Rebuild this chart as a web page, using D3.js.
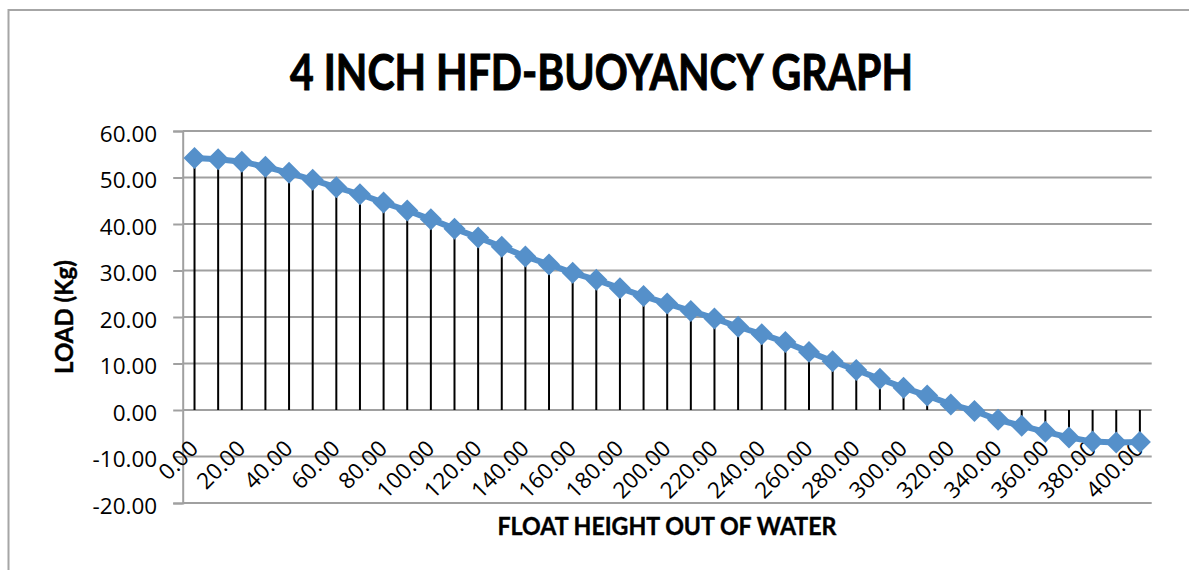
<!DOCTYPE html>
<meta charset="utf-8">
<html>
<head>
	<!-- Load d3.js -->
	<script src="https://d3js.org/d3.v7.min.js"></script>
	<style>
		body { margin: 0; background: #fff; }
		text { font-family: Lato, "Open Sans", sans-serif; fill: #000; }
		.tick text { font-family: "Open Sans", Lato, sans-serif; }
	</style>
</head>
<body>

<div id="chart"></div>

<script>

// float height out of water (categories) and load in kg
var heights = [0,10,20,30,40,50,60,70,80,90,100,110,120,130,140,150,160,170,180,190,200,
               210,220,230,240,250,260,270,280,290,300,310,320,330,340,350,360,370,380,390,400];
var loads = [54.2,53.9,53.4,52.3,51.0,49.5,47.9,46.4,44.6,42.9,41.0,39.0,37.1,35.1,33.0,31.3,
             29.5,28.0,26.2,24.5,22.9,21.3,19.7,17.9,16.3,14.6,12.5,10.5,8.6,6.7,4.8,3.1,
             1.2,-0.2,-2.1,-3.4,-4.7,-5.9,-6.8,-7.0,-6.9];
var yTicks = [-20,-10,0,10,20,30,40,50,60];

var W = 1189, H = 570;
// plot area edges (window.top is reserved, so keep them in an object)
var plot = {left: 182.7, right: 1151.7, top: 131, bottom: 503};

// excel style number with a plain hyphen
function fmt(d) { return d.toFixed(2); }

var svg = d3.select("#chart")
  .append("svg")
    .attr("width", W)
    .attr("height", H);

// chart border (right/bottom run off the picture)
svg.append("rect")
  .attr("x", 8.5).attr("y", 10)
  .attr("width", 1300).attr("height", 700)
  .attr("fill", "none")
  .attr("stroke", "#a6a6a6")
  .attr("stroke-width", 2);

var x = d3.scaleBand()
  .domain(heights)
  .range([plot.left, plot.right])
  .padding(0);

var y = d3.scaleLinear()
  .domain([-20, 60])
  .range([plot.bottom, plot.top]);

// gridlines
svg.append("g")
  .selectAll("line")
  .data(yTicks)
  .enter()
  .append("line")
    .attr("x1", plot.left)
    .attr("x2", plot.right)
    .attr("y1", function(d) { return y(d); })
    .attr("y2", function(d) { return y(d); })
    .attr("stroke", "#a0a0a0")
    .attr("stroke-width", 2);

// Y axis
var yAxis = svg.append("g")
  .attr("transform", "translate(" + plot.left + ",0)")
  .call(d3.axisLeft(y).tickValues(yTicks).tickSize(9.5).tickPadding(16)
        .tickFormat(fmt));
yAxis.select(".domain").attr("stroke", "#a0a0a0").attr("stroke-width", 2);
yAxis.selectAll(".tick line").attr("stroke", "#a0a0a0").attr("stroke-width", 2);
yAxis.selectAll("text")
  .attr("font-size", 22.5)
  .attr("dy", "0.45em");

// X axis (crosses at 0), label every second category
var xAxis = svg.append("g")
  .attr("transform", "translate(0," + y(0) + ")")
  .call(d3.axisBottom(x)
        .tickValues(heights.filter(function(d, i) { return i % 2 === 0; }))
        .tickSize(0)
        .tickFormat(fmt));
xAxis.select(".domain").remove();
xAxis.selectAll("text")
  .attr("font-size", 22.5)
  .attr("y", 0)
  .attr("dy", 0)
  .attr("text-anchor", "end")
  .attr("transform", "translate(5,40) rotate(-45)");

// drop lines
svg.append("g")
  .selectAll("line")
  .data(loads)
  .enter()
  .append("line")
    .attr("x1", function(d, i) { return x(heights[i]) + x.bandwidth() / 2; })
    .attr("x2", function(d, i) { return x(heights[i]) + x.bandwidth() / 2; })
    .attr("y1", function(d) { return y(d); })
    .attr("y2", y(0))
    .attr("stroke", "#000")
    .attr("stroke-width", 2);

// series line
var line = d3.line()
  .x(function(d, i) { return x(heights[i]) + x.bandwidth() / 2; })
  .y(function(d) { return y(d); });

svg.append("path")
  .datum(loads)
  .attr("d", line)
  .attr("fill", "none")
  .attr("stroke", "#5590ca")
  .attr("stroke-width", 6);

// diamond markers
svg.append("g")
  .selectAll("path")
  .data(loads)
  .enter()
  .append("path")
    .attr("d", d3.symbol(d3.symbolSquare, 242))
    .attr("transform", function(d, i) {
      return "translate(" + (x(heights[i]) + x.bandwidth() / 2) + "," + y(d) + ") rotate(45)";
    })
    .attr("fill", "#5590ca");

// title
svg.append("text")
  .attr("x", 601.5)
  .attr("y", 90)
  .attr("text-anchor", "middle")
  .attr("font-size", 50)
  .attr("font-weight", "bold")
  .attr("stroke", "#000")
  .attr("stroke-width", 1)
  .attr("textLength", 623)
  .attr("lengthAdjust", "spacingAndGlyphs")
  .text("4 INCH HFD-BUOYANCY GRAPH");

// axis titles
svg.append("text")
  .attr("x", 667)
  .attr("y", 535)
  .attr("text-anchor", "middle")
  .attr("font-size", 25)
  .attr("font-weight", "bold")
  .attr("stroke", "#000")
  .attr("stroke-width", 0.4)
  .attr("textLength", 339)
  .attr("lengthAdjust", "spacingAndGlyphs")
  .text("FLOAT HEIGHT OUT OF WATER");

svg.append("text")
  .attr("transform", "translate(73,317) rotate(-90)")
  .attr("text-anchor", "middle")
  .attr("font-size", 24)
  .attr("font-weight", "bold")
  .attr("stroke", "#000")
  .attr("stroke-width", 0.4)
  .text("LOAD (Kg)");

</script>

</body>
</html>
